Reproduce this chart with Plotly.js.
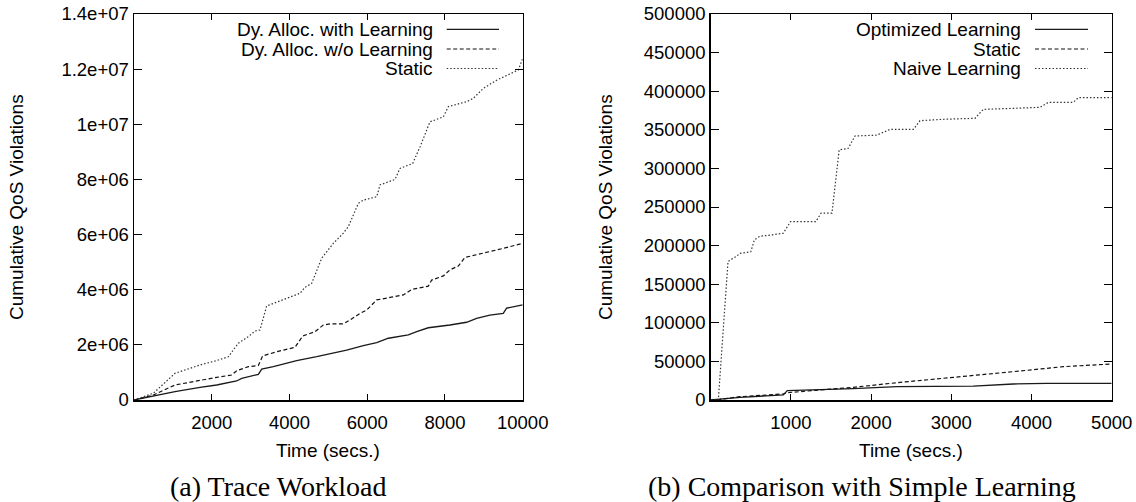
<!DOCTYPE html>
<html>
<head>
<meta charset="utf-8">
<script src="https://cdn.plot.ly/plotly-3.0.1.min.js"></script>
<style>
  html, body { margin: 0; padding: 0; background: #fff; }
  #chart { width: 1136px; height: 502px; }
</style>
</head>
<body>
<div id="chart"></div>
<script>
// ---------- Panel (a): Trace Workload ----------
const aWithLearnT = [0, 497, 1055, 1698, 2127, 2642, 2771, 3199, 3285, 3585, 4185, 4700, 5042, 5471, 5900, 6244, 6544, 7058, 7272, 7572, 8129, 8557, 8814, 9157, 9500, 9586, 10000];
const aWithLearnV = [0, 145000, 302000, 459000, 544000, 689000, 785000, 930000, 1120000, 1210000, 1430000, 1570000, 1670000, 1810000, 1970000, 2080000, 2240000, 2360000, 2480000, 2620000, 2720000, 2820000, 2960000, 3080000, 3140000, 3330000, 3450000];

const aNoLearnT = [0, 497, 1055, 1698, 2127, 2513, 2642, 2942, 3199, 3310, 3670, 4142, 4340, 4657, 4871, 5042, 5385, 5557, 5814, 5985, 6244, 6587, 6930, 7144, 7572, 7658, 7958, 8129, 8343, 8514, 8986, 9500, 10000];
const aNoLearnV = [0, 181000, 544000, 725000, 822000, 907000, 1060000, 1210000, 1250000, 1600000, 1750000, 1910000, 2320000, 2480000, 2720000, 2760000, 2760000, 2900000, 3140000, 3260000, 3630000, 3720000, 3810000, 4010000, 4130000, 4350000, 4500000, 4720000, 4860000, 5170000, 5320000, 5500000, 5680000];

const aStaticT = [0, 497, 1055, 1698, 2127, 2427, 2685, 2942, 3113, 3242, 3413, 3842, 4271, 4400, 4571, 4828, 5128, 5385, 5514, 5771, 5900, 6244, 6329, 6715, 6843, 7170, 7358, 7615, 7958, 8086, 8557, 8728, 8986, 9329, 9672, 9886, 10000];
const aStaticV = [0, 243000, 968000, 1270000, 1430000, 1570000, 2060000, 2300000, 2500000, 2540000, 3410000, 3630000, 3870000, 4090000, 4230000, 5140000, 5680000, 6050000, 6290000, 7130000, 7250000, 7370000, 7800000, 8000000, 8400000, 8580000, 9180000, 10090000, 10270000, 10640000, 10820000, 10940000, 11300000, 11600000, 11820000, 11970000, 12390000];

const aNames = ["Dy. Alloc. with Learning", "Dy. Alloc. w/o Learning", "Static"];
const aXTicks = [2000, 4000, 6000, 8000, 10000];
const aYTicks = [0, 2000000, 4000000, 6000000, 8000000, 10000000, 12000000, 14000000];
const aYTickText = ["0", "2e+06", "4e+06", "6e+06", "8e+06", "1e+07", "1.2e+07", "1.4e+07"];

// ---------- Panel (b): Comparison with Simple Learning ----------
const bOptT = [0, 116, 365, 905, 955, 1778, 2319, 3274, 3773, 4190, 5000];
const bOptV = [0, 900, 3500, 6500, 12100, 14700, 17300, 18100, 20700, 21600, 21600];

const bStaticT = [0, 116, 365, 905, 955, 1778, 2319, 3005, 3773, 4397, 5000];
const bStaticV = [0, 900, 4300, 7800, 9500, 16400, 22400, 28900, 36700, 43200, 46600];

const bNaiveT = [0, 95, 216, 320, 365, 500, 545, 612, 770, 905, 995, 1310, 1377, 1512, 1602, 1715, 1799, 2070, 2236, 2527, 2610, 2900, 3296, 3399, 3773, 4106, 4210, 4521, 4584, 5000];
const bNaiveV = [0, 0, 179500, 186000, 190000, 192000, 207500, 212000, 214000, 216000, 231000, 231000, 242000, 242000, 324000, 326000, 342000, 343000, 350600, 350600, 361800, 363600, 364900, 376500, 377800, 379100, 385600, 385600, 391600, 391600];

const bNames = ["Optimized Learning", "Static", "Naive Learning"];
const bXTicks = [1000, 2000, 3000, 4000, 5000];
const bYTicks = [0, 50000, 100000, 150000, 200000, 250000, 300000, 350000, 400000, 450000, 500000];
const bYTickText = ["0", "50000", "100000", "150000", "200000", "250000", "300000", "350000", "400000", "450000", "500000"];

const xTitle = "Time (secs.)";
const yTitle = "Cumulative QoS Violations";
const captionA = "(a) Trace Workload";
const captionB = "(b) Comparison with Simple Learning";

// ---------- styles ----------
const W = 1136, H = 502;
const px = v => v / W;
const py = v => (H - v) / H;
const SANS = "Liberation Sans, Arial, Helvetica, sans-serif";
const SERIF = "Liberation Serif, Times New Roman, serif";
const styles = [
  {color: "#1a1a1a", width: 1.3, dash: "solid"},
  {color: "#111111", width: 1.2, dash: "4px,2.5px"},
  {color: "#333333", width: 1.2, dash: "1.5px,2px"}
];

function tr(x, y, name, i, xa, ya) {
  return {x: x, y: y, name: name, type: "scatter", mode: "lines",
          line: Object.assign({}, styles[i]), xaxis: xa, yaxis: ya,
          showlegend: false, hoverinfo: "x+y+name"};
}

const data = [
  tr(aWithLearnT, aWithLearnV, aNames[0], 0, "x", "y"),
  tr(aNoLearnT, aNoLearnV, aNames[1], 1, "x", "y"),
  tr(aStaticT, aStaticV, aNames[2], 2, "x", "y"),
  tr(bOptT, bOptV, bNames[0], 0, "x2", "y2"),
  tr(bStaticT, bStaticV, bNames[1], 1, "x2", "y2"),
  tr(bNaiveT, bNaiveV, bNames[2], 2, "x2", "y2")
];

const axisCommon = {
  showline: true, linecolor: "#000", linewidth: 1.5, mirror: "ticks",
  ticks: "inside", tickcolor: "#000", tickwidth: 1,
  showgrid: false, zeroline: false, fixedrange: true,
  tickfont: {family: SANS, size: 18.5, color: "#000"}
};

const yDom = [py(400), py(14)];
const layout = {
  width: W, height: H,
  margin: {l: 0, r: 0, t: 0, b: 0},
  paper_bgcolor: "#fff", plot_bgcolor: "#fff",
  showlegend: false,
  xaxis: Object.assign({}, axisCommon, {domain: [px(134), px(522.7)], range: [0, 10000], tickvals: aXTicks, ticktext: aXTicks.map(String), ticklen: 6, ticklabelstandoff: 5, anchor: "y"}),
  yaxis: Object.assign({}, axisCommon, {domain: yDom, range: [0, 14000000], tickvals: aYTicks, ticktext: aYTickText, ticklen: 8, anchor: "x"}),
  xaxis2: Object.assign({}, axisCommon, {domain: [px(710.7), px(1111.7)], range: [0, 5000], tickvals: bXTicks, ticktext: bXTicks.map(String), ticklen: 6, ticklabelstandoff: 5, anchor: "y2"}),
  yaxis2: Object.assign({}, axisCommon, {domain: yDom, range: [0, 500000], tickvals: bYTicks, ticktext: bYTickText, ticklen: 8, anchor: "x2"}),
  annotations: [],
  shapes: []
};

const ann = (text, x, y, opts) => Object.assign({
  text: text, x: x, y: y, xref: "paper", yref: "paper", showarrow: false,
  font: {family: SANS, size: 19, color: "#000"}, xanchor: "center", yanchor: "middle"
}, opts || {});

// axis titles
layout.annotations.push(ann(xTitle, px(328.3), py(450)));
layout.annotations.push(ann(xTitle, px(911), py(450)));
layout.annotations.push(ann(yTitle, px(17), py(207), {textangle: -90}));
layout.annotations.push(ann(yTitle, px(606), py(207), {textangle: -90}));
// captions
layout.annotations.push(ann(captionA, px(278), py(486), {font: {family: SERIF, size: 28, color: "#000"}}));
layout.annotations.push(ann(captionB, px(862), py(486), {font: {family: SERIF, size: 28, color: "#000"}}));

// legends (text right-aligned, sample to the right)
const rows = [29.3, 49, 68.5];
function legend(names, textRight, s0, s1) {
  names.forEach((n, i) => {
    layout.annotations.push(ann(n, px(textRight), py(rows[i]), {xanchor: "right"}));
    layout.shapes.push({type: "line", xref: "paper", yref: "paper",
      x0: px(s0), x1: px(s1), y0: py(rows[i]), y1: py(rows[i]),
      line: {color: styles[i].color, width: styles[i].width, dash: styles[i].dash}});
  });
}
legend(aNames, 435, 446.7, 499);
legend(bNames, 1023.3, 1035, 1088);

Plotly.newPlot("chart", data, layout, {displayModeBar: false, staticPlot: true});
</script>
</body>
</html>
